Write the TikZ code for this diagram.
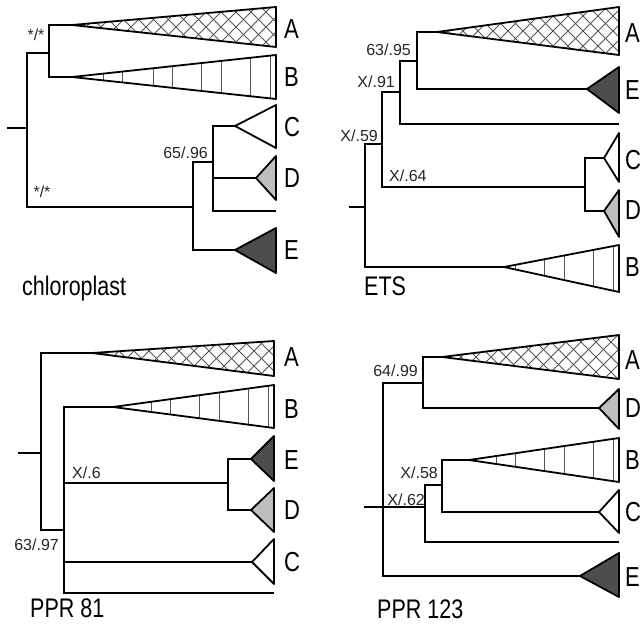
\documentclass[tikz,border=0pt]{standalone}
\usepackage{fontspec}
\usepackage{graphicx}
\setmainfont{Liberation Sans}
\definecolor{dk}{HTML}{4D4D4D}
\definecolor{lt}{HTML}{BEBEBE}
\definecolor{hc}{HTML}{555555}
\newcommand\tall[1]{\scalebox{1}[1.25]{#1}}
\newcommand\clade[5]{%
  \filldraw[tri, fill=#5] (#1) -- (#2,#3) -- (#2,#4) -- cycle;}
\newcommand\stripeclade[4]{%
  \begin{scope}
    \clip (#1) -- (#2,#3) -- (#2,#4) -- cycle;
    \foreach \d in {6,26,55,75,104,123,154,173}
      \draw[hatch] ({#2-\d},{#3-2}) -- ({#2-\d},{#4+2});
  \end{scope}
  \draw[tri] (#1) -- (#2,#3) -- (#2,#4) -- cycle;}
\newcommand\crossclade[4]{%
  \begin{scope}
    \clip (#1) -- (#2,#3) -- (#2,#4) -- cycle;
    \foreach \k in {0,...,22} {
      \draw[hatch] ({#2-60-15*\k},{#3-60}) -- ++(120,120);
      \draw[hatch] ({#2-60-15*\k},{#4+60}) -- ++(120,-120);
    }
  \end{scope}
  \draw[tri] (#1) -- (#2,#3) -- (#2,#4) -- cycle;}
\begin{document}
\begin{tikzpicture}[x=1pt,y=-1pt,
  br/.style={line width=2pt, line join=miter},
  tri/.style={line width=1.8pt, line join=round},
  hatch/.style={line width=0.9pt, draw=hc},
  lab/.style={font=\fontsize{16}{16}\selectfont, text=black!85, inner sep=0pt},
  tip/.style={font=\fontsize{22}{22}\selectfont, anchor=west, inner sep=0pt},
  capt/.style={font=\fontsize{21.5}{21.5}\selectfont, anchor=base west, inner sep=0pt}]
\useasboundingbox (0,0) rectangle (644,623);

% ---------------- panel 1: chloroplast
\coordinate (a0) at (7,128);
\coordinate (a1) at (27,128);
\coordinate (a2) at (49,53);
\coordinate (aA) at (72,25);
\coordinate (aB) at (72,77);
\coordinate (a3) at (193,207);
\coordinate (a4) at (213,162);
\coordinate (aC) at (235,126);
\coordinate (aD) at (256,178);
\coordinate (aX) at (276,211);
\coordinate (aE) at (235,250);
\draw[br] (a0) -- (a1);
\draw[br] (a1) |- (a2); \draw[br] (a1) |- (a3);
\draw[br] (a2) |- (aA); \draw[br] (a2) |- (aB);
\draw[br] (a3) |- (a4); \draw[br] (a3) |- (aE);
\draw[br] (a4) |- (aC); \draw[br] (a4) |- (aD); \draw[br] (a4) |- (aX);
\crossclade{aA}{276}{7}{47}
\stripeclade{aB}{276}{55}{99}
\clade{aC}{276}{105}{148}{white}
\clade{aD}{276}{156}{200}{lt}
\clade{aE}{276}{228}{273}{dk}
\node[tip] (tA1) at (284,29) {\tall{A}};
\node[tip] (tB1) at (284,77) {\tall{B}};
\node[tip] (tC1) at (284,127) {\tall{C}};
\node[tip] (tD1) at (284,178) {\tall{D}};
\node[tip] (tE1) at (284,250) {\tall{E}};
\node[lab] (s11) at (36,35) {*/*};
\node[lab] (s12) at (42,192) {*/*};
\node[lab, anchor=east] (s13) at (208,153) {65/.96};
\node[capt] (c1) at (22,295) {\tall{chloroplast}};

% ---------------- panel 2: ETS
\coordinate (b0) at (349,207);
\coordinate (b1) at (365,207);
\coordinate (bB) at (504,267);
\coordinate (b2) at (382,144);
\coordinate (b5) at (585,187);
\coordinate (bC) at (604,158);
\coordinate (bD) at (604,211);
\coordinate (b3) at (400,92);
\coordinate (bX) at (619,124);
\coordinate (b4) at (417,61);
\coordinate (bA) at (437,32);
\coordinate (bE) at (587,89);
\draw[br] (b0) -- (b1);
\draw[br] (b1) |- (b2); \draw[br] (b1) |- (bB);
\draw[br] (b2) |- (b3); \draw[br] (b2) |- (b5);
\draw[br] (b5) |- (bC); \draw[br] (b5) |- (bD);
\draw[br] (b3) |- (b4); \draw[br] (b3) |- (bX);
\draw[br] (b4) |- (bA); \draw[br] (b4) |- (bE);
\crossclade{bA}{619}{7}{55}
\clade{bE}{619}{67}{113}{dk}
\clade{bC}{619}{133}{182}{white}
\clade{bD}{619}{190}{237}{lt}
\stripeclade{bB}{619}{245}{292}
\node[tip] (tA2) at (625,33) {\tall{A}};
\node[tip] (tE2) at (625,90) {\tall{E}};
\node[tip] (tC2) at (625,160) {\tall{C}};
\node[tip] (tD2) at (625,210) {\tall{D}};
\node[tip] (tB2) at (625,267) {\tall{B}};
\node[lab, anchor=east] (s21) at (411,50) {63/.95};
\node[lab, anchor=east] (s22) at (395,82) {X/.91};
\node[lab, anchor=east] (s23) at (378,136) {X/.59};
\node[lab, anchor=west] (s24) at (389,176) {X/.64};
\node[capt] (c2) at (364,295) {\tall{ETS}};

% ---------------- panel 3: PPR 81
\coordinate (c0) at (18,453);
\coordinate (c1) at (41,453);
\coordinate (cA) at (92,353);
\coordinate (c2) at (64,530);
\coordinate (cB) at (113,407);
\coordinate (c3) at (228,483);
\coordinate (cE) at (251,459);
\coordinate (cD) at (251,510);
\coordinate (cC) at (252,562);
\coordinate (cX) at (274,593);
\draw[br] (c0) -- (c1);
\draw[br] (c1) |- (cA); \draw[br] (c1) |- (c2);
\draw[br] (c2) |- (cB); \draw[br] (c2) |- (c3);
\draw[br] (c2) |- (cC); \draw[br] (c2) |- (cX);
\draw[br] (c3) |- (cE); \draw[br] (c3) |- (cD);
\crossclade{cA}{274}{341}{376}
\stripeclade{cB}{274}{385}{428}
\clade{cE}{274}{436}{481}{dk}
\clade{cD}{274}{488}{532}{lt}
\clade{cC}{274}{539}{584}{white}
\node[tip] (tA3) at (284,357) {\tall{A}};
\node[tip] (tB3) at (284,409) {\tall{B}};
\node[tip] (tE3) at (284,460) {\tall{E}};
\node[tip] (tD3) at (284,510) {\tall{D}};
\node[tip] (tC3) at (284,562) {\tall{C}};
\node[lab, anchor=east] (s31) at (59,545) {63/.97};
\node[lab, anchor=west] (s32) at (72,473) {X/.6};
\node[capt] (c3t) at (30,617) {\tall{PPR 81}};

% ---------------- panel 4: PPR 123
\coordinate (d0) at (364,507);
\coordinate (d1) at (383,507);
\coordinate (d2) at (423,383);
\coordinate (dA) at (442,357);
\coordinate (dD) at (599,408);
\coordinate (d3) at (425,507);
\coordinate (d4) at (442,485);
\coordinate (dB) at (469,460);
\coordinate (dC) at (599,512);
\coordinate (dX) at (619,542);
\coordinate (dE) at (580,576);
\draw[br] (d0) -- (d1);
\draw[br] (d1) |- (d2); \draw[br] (d1) |- (d3); \draw[br] (d1) |- (dE);
\draw[br] (d2) |- (dA); \draw[br] (d2) |- (dD);
\draw[br] (d3) |- (d4); \draw[br] (d3) |- (dX);
\draw[br] (d4) |- (dB); \draw[br] (d4) |- (dC);
\crossclade{dA}{619}{335}{379}
\clade{dD}{619}{389}{429}{lt}
\stripeclade{dB}{619}{438}{482}
\clade{dC}{619}{490}{533}{white}
\clade{dE}{619}{553}{597}{dk}
\node[tip] (tA4) at (625,360) {\tall{A}};
\node[tip] (tD4) at (625,408) {\tall{D}};
\node[tip] (tB4) at (625,460) {\tall{B}};
\node[tip] (tC4) at (625,512) {\tall{C}};
\node[tip] (tE4) at (625,577) {\tall{E}};
\node[lab, anchor=east] (s41) at (418,371) {64/.99};
\node[lab, anchor=east] (s42) at (438,473) {X/.58};
\node[lab, anchor=east] (s43) at (425,500) {X/.62};
\node[capt] (c4) at (377,618) {\tall{PPR 123}};
\end{tikzpicture}
\end{document}
